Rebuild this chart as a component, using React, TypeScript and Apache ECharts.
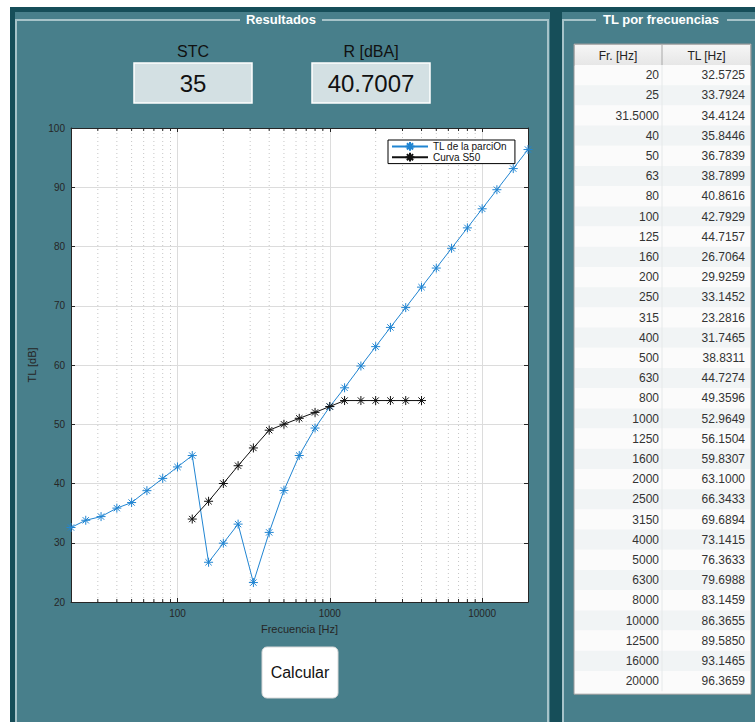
import React, { useEffect, useRef } from "react";
import * as echarts from "echarts";

// ---------- data ----------
const freqs = [20, 25, 31.5, 40, 50, 63, 80, 100, 125, 160, 200, 250, 315, 400, 500, 630, 800, 1000, 1250, 1600, 2000, 2500, 3150, 4000, 5000, 6300, 8000, 10000, 12500, 16000, 20000];
const tlValues = [32.5725, 33.7924, 34.4124, 35.8446, 36.7839, 38.7899, 40.8616, 42.7929, 44.7157, 26.7064, 29.9259, 33.1452, 23.2816, 31.7465, 38.8311, 44.7274, 49.3596, 52.9649, 56.1504, 59.8307, 63.1, 66.3433, 69.6894, 73.1415, 76.3633, 79.6988, 83.1459, 86.3655, 89.585, 93.1465, 96.3659];
const s50Freqs = [125, 160, 200, 250, 315, 400, 500, 630, 800, 1000, 1250, 1600, 2000, 2500, 3150, 4000];
const s50Values = [34, 37, 40, 43, 46, 49, 50, 51, 52, 53, 54, 54, 54, 54, 54, 54];
const xMajorLabels = [100, 1000, 10000];
const xMinorTicks = [30, 40, 50, 60, 70, 80, 90, 200, 300, 400, 500, 600, 700, 800, 900, 2000, 3000, 4000, 5000, 6000, 7000, 8000, 9000];
const yMin = 20;
const yMax = 100;
const yStep = 10;
const stcValue = "35";
const rValue = "40.7007";
const seriesNames = ["TL de la parciOn", "Curva S50"];
const tableHeaders = ["Fr. [Hz]", "TL [Hz]"];

// ---------- styles ----------
const FONT = '"Liberation Sans", Arial, sans-serif';
const DARK = "#164e59";
const PANEL = "#487f8b";
const EDGE = "#a6c3c9";
const AX = "#262626";
const BLUE = "#2185d2";
const BLACK = "#111111";
const ASTERISK = "path://M0,-10L0,10M-10,0L10,0M-7,-7L7,7M-7,7L7,-7";

function txt(x: number, y: number, text: string, size: number, opts: any = {}) {
  const align = opts.align || "center";
  return {
    type: "text",
    x,
    y,
    z: 5,
    silent: true,
    style: {
      text,
      fill: opts.fill || "#111111",
      font: `${opts.weight || "normal"} ${size}px ${FONT}`,
      align,
      verticalAlign: "middle",
      textAlign: align,
      textVerticalAlign: "middle",
    },
  };
}

function buildGraphics() {
  const g: any[] = [];
  g.push({ type: "rect", z: -10, silent: true, shape: { x: 10, y: 7, width: 745, height: 715 }, style: { fill: DARK } });
  g.push({ type: "rect", z: -9, silent: true, shape: { x: 15, y: 12, width: 535, height: 710 }, style: { fill: PANEL } });
  g.push({ type: "rect", z: -9, silent: true, shape: { x: 562, y: 12, width: 193, height: 710 }, style: { fill: PANEL } });
  const edge = { stroke: EDGE, lineWidth: 2, fill: null };
  g.push({ type: "polyline", z: -8, silent: true, shape: { points: [[240, 20], [16, 20], [16, 722]] }, style: edge });
  g.push({ type: "polyline", z: -8, silent: true, shape: { points: [[322, 20], [548, 20], [548, 722]] }, style: edge });
  g.push({ type: "polyline", z: -8, silent: true, shape: { points: [[596, 20], [563, 20], [563, 722]] }, style: edge });
  g.push({ type: "polyline", z: -8, silent: true, shape: { points: [[727, 20], [755, 20]] }, style: edge });
  g.push(txt(281, 19, "Resultados", 13, { weight: "bold", fill: "#ffffff" }));
  g.push(txt(661, 19, "TL por frecuencias", 13, { weight: "bold", fill: "#ffffff" }));

  // result boxes
  g.push(txt(193, 51, "STC", 16));
  g.push(txt(371, 51, "R [dBA]", 16));
  g.push({ type: "rect", z: -5, silent: true, shape: { x: 134, y: 63, width: 118, height: 40 }, style: { fill: "#d3e0e3", stroke: "#ffffff", lineWidth: 1.5 } });
  g.push({ type: "rect", z: -5, silent: true, shape: { x: 312, y: 63, width: 118, height: 40 }, style: { fill: "#d3e0e3", stroke: "#ffffff", lineWidth: 1.5 } });
  g.push(txt(193, 83, stcValue, 24));
  g.push(txt(371, 83, rValue, 24));

  // button
  g.push({ type: "rect", z: -5, silent: true, shape: { x: 262, y: 647, width: 76, height: 51, r: 5 }, style: { fill: "#ffffff", stroke: "#d8d8d8", lineWidth: 1 } });
  g.push(txt(300, 672, "Calcular", 16));

  // table
  const tx = 574, ty = 44, tw = 177, hh = 21, rh = 20.2, colX = 662;
  const n = freqs.length;
  const bodyH = n * rh + 3;
  g.push({ type: "rect", z: -5, silent: true, shape: { x: tx, y: ty, width: tw, height: hh + bodyH }, style: { fill: "#fbfbfb", stroke: "#9a9a9a", lineWidth: 1 } });
  g.push({
    type: "rect", z: -4, silent: true, shape: { x: tx + 0.5, y: ty + 0.5, width: tw - 1, height: hh },
    style: { fill: new echarts.graphic.LinearGradient(0, 0, 0, 1, [{ offset: 0, color: "#f6f6f6" }, { offset: 1, color: "#e6e6e6" }]), stroke: "#b0b0b0", lineWidth: 1 },
  });
  freqs.forEach((f, i) => {
    const y = ty + hh + i * rh;
    g.push({ type: "rect", z: -4, silent: true, shape: { x: tx + 1, y, width: tw - 2, height: rh }, style: { fill: i % 2 === 0 ? "#fbfbfb" : "#f1f4f5" } });
    g.push(txt(colX - 3, y + rh / 2, Number.isInteger(f) ? String(f) : f.toFixed(4), 12, { align: "right", fill: "#333333" }));
    g.push(txt(tx + tw - 6, y + rh / 2, tlValues[i].toFixed(4), 12, { align: "right", fill: "#333333" }));
  });
  g.push({ type: "line", z: -3, silent: true, shape: { x1: colX, y1: ty + hh, x2: colX, y2: ty + hh + n * rh }, style: { stroke: "#e6e9ea", lineWidth: 1 } });
  g.push({ type: "line", z: -3, silent: true, shape: { x1: colX, y1: ty + 1, x2: colX, y2: ty + hh }, style: { stroke: "#a8a8a8", lineWidth: 1 } });
  g.push(txt((tx + colX) / 2, ty + hh / 2 + 1, tableHeaders[0], 12, { fill: "#222222" }));
  g.push(txt((colX + tx + tw) / 2, ty + hh / 2 + 1, tableHeaders[1], 12, { fill: "#222222" }));
  return g;
}

export default function App() {
  const ref = useRef<HTMLDivElement>(null);
  useEffect(() => {
    if (!ref.current) return;
    const chart = echarts.init(ref.current, undefined, { renderer: "svg" });
    const axisCommon = {
      axisLine: { show: true, onZero: false, lineStyle: { color: AX, width: 1 } },
      axisTick: { show: true, inside: true, length: 4, lineStyle: { color: AX } },
    };
    const option: any = {
      animation: false,
      backgroundColor: "#ffffff",
      textStyle: { fontFamily: FONT },
      graphic: buildGraphics(),
      grid: { left: 71, top: 128, width: 457, height: 474, show: true, backgroundColor: "#ffffff", borderWidth: 0, containLabel: false },
      legend: {
        data: seriesNames,
        orient: "vertical",
        left: 388,
        top: 140,
        itemWidth: 36,
        itemHeight: 11,
        itemGap: 0,
        padding: [1, 8, 1, 3],
        backgroundColor: "#ffffff",
        borderColor: "#000000",
        borderWidth: 1,
        borderRadius: 0,
        selectedMode: false,
        textStyle: { fontSize: 10, color: BLACK, fontFamily: FONT },
      },
      xAxis: [
        {
          type: "log",
          logBase: 10,
          min: 20,
          max: 20000,
          position: "bottom",
          ...axisCommon,
          axisLabel: {
            color: AX,
            fontSize: 10,
            margin: 6,
            fontFamily: FONT,
            formatter: (v: number) => {
              const r = Math.round(v);
              return xMajorLabels.includes(r) ? String(r) : "";
            },
          },
          splitLine: { show: true, lineStyle: { color: "#dcdcdc", width: 1 } },
          name: "Frecuencia [Hz]",
          nameLocation: "middle",
          nameGap: 21,
          nameTextStyle: { color: AX, fontSize: 11, fontFamily: FONT },
        },
        {
          type: "log",
          logBase: 10,
          min: 20,
          max: 20000,
          position: "top",
          ...axisCommon,
          axisLabel: { show: false },
          splitLine: { show: false },
        },
      ],
      yAxis: [
        {
          type: "value",
          min: yMin,
          max: yMax,
          interval: yStep,
          position: "left",
          ...axisCommon,
          axisLabel: { color: AX, fontSize: 10, margin: 6, fontFamily: FONT },
          splitLine: { show: true, lineStyle: { color: "#dcdcdc", width: 1 } },
          name: "TL [dB]",
          nameLocation: "middle",
          nameGap: 30,
          nameRotate: 90,
          nameTextStyle: { color: AX, fontSize: 11, fontFamily: FONT },
        },
        {
          type: "value",
          min: yMin,
          max: yMax,
          interval: yStep,
          position: "right",
          ...axisCommon,
          axisLabel: { show: false },
          splitLine: { show: false },
        },
      ],
      series: [
        {
          type: "custom",
          name: "minor",
          xAxisIndex: 0,
          yAxisIndex: 0,
          silent: true,
          z: 1,
          data: xMinorTicks.map((f) => [f, yMin]),
          renderItem: (_p: any, api: any) => {
            const f = api.value(0);
            const b = api.coord([f, yMin]);
            const t = api.coord([f, yMax]);
            return {
              type: "group",
              children: [
                { type: "line", shape: { x1: b[0], y1: b[1], x2: t[0], y2: t[1] }, style: { stroke: "#c6c6c6", lineWidth: 1, lineDash: [1, 3] } },
                { type: "line", shape: { x1: b[0], y1: b[1], x2: b[0], y2: b[1] - 3 }, style: { stroke: AX, lineWidth: 1 } },
                { type: "line", shape: { x1: t[0], y1: t[1], x2: t[0], y2: t[1] + 3 }, style: { stroke: AX, lineWidth: 1 } },
              ],
            };
          },
        },
        {
          type: "line",
          name: seriesNames[0],
          xAxisIndex: 0,
          yAxisIndex: 0,
          z: 3,
          data: freqs.map((f, i) => [f, tlValues[i]]),
          symbol: ASTERISK,
          symbolSize: 9,
          showAllSymbol: true,
          lineStyle: { color: BLUE, width: 1 },
          itemStyle: { color: BLUE, borderColor: BLUE, borderWidth: 1 },
        },
        {
          type: "line",
          name: seriesNames[1],
          xAxisIndex: 0,
          yAxisIndex: 0,
          z: 4,
          data: s50Freqs.map((f, i) => [f, s50Values[i]]),
          symbol: ASTERISK,
          symbolSize: 9,
          showAllSymbol: true,
          lineStyle: { color: BLACK, width: 1 },
          itemStyle: { color: BLACK, borderColor: BLACK, borderWidth: 1 },
        },
      ],
    };
    chart.setOption(option);
    return () => chart.dispose();
  }, []);
  return <div ref={ref} style={{ position: "absolute", left: 0, top: 0, width: 755, height: 722 }} />;
}
